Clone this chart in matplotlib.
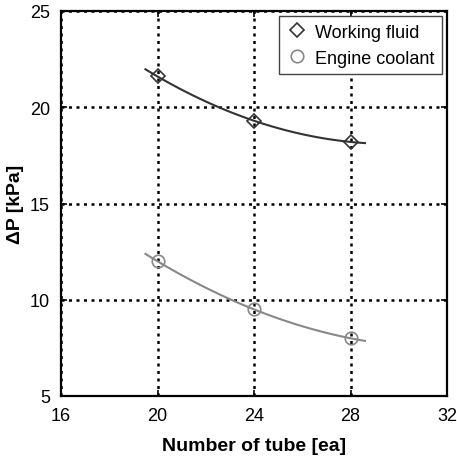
import numpy as np
import matplotlib
matplotlib.use("Agg")
import matplotlib.pyplot as plt

plt.rcParams["font.family"] = ["Liberation Sans", "DejaVu Sans"]

# pressure drop against tube count
tubes = [20, 24, 28]
working_fluid = [21.6, 19.3, 18.2]
engine_coolant = [12.0, 9.5, 8.0]
fit_range = (19.5, 28.6)

x_ticks = [16, 20, 24, 28, 32]
y_ticks = [5, 10, 15, 20, 25]

fig = plt.figure(figsize=(4.57, 4.60), dpi=100)
ax = fig.add_axes([61 / 457, 63 / 460, 386 / 457, 385 / 460])


def trend(ys):
    # second-order fit through the measured points
    coef = np.polyfit(tubes, ys, 2)
    xs = np.linspace(*fit_range, 100)
    return xs, np.polyval(coef, xs)


ax.plot(*trend(working_fluid), color="#333333", lw=1.5, zorder=3)
ax.plot(*trend(engine_coolant), color="#888888", lw=1.5, zorder=3)
ax.plot(tubes, working_fluid, ls="none", marker="D", ms=7, mfc="none",
        mec="#333333", mew=1.2, label="Working fluid", zorder=4)
ax.plot(tubes, engine_coolant, ls="none", marker="o", ms=9, mfc="none",
        mec="#888888", mew=1.2, label="Engine coolant", zorder=4)

ax.set_xlim(16, 32)
ax.set_ylim(5, 25)
ax.set_xticks(x_ticks)
ax.set_yticks(y_ticks)
ax.grid(True, color="black", ls=(0, (1.2, 1.8)), lw=1.8)
ax.tick_params(direction="in", labelsize=13, length=4, width=1.2,
               top=True, right=True, pad=8)
for s in ax.spines.values():
    s.set_linewidth(1.6)

ax.set_xlabel("Number of tube [ea]", fontsize=14, fontweight="bold", labelpad=9)
ax.set_ylabel("ΔP [kPa]", fontsize=14, fontweight="bold", labelpad=4)

leg = ax.legend(loc="upper right", fontsize=13, frameon=True, fancybox=False,
                framealpha=1, edgecolor="#444444", borderaxespad=0.3,
                handletextpad=0.4, handlelength=1.2, borderpad=0.4)
leg.get_frame().set_linewidth(1.0)

fig.savefig("out.png", dpi=100)
